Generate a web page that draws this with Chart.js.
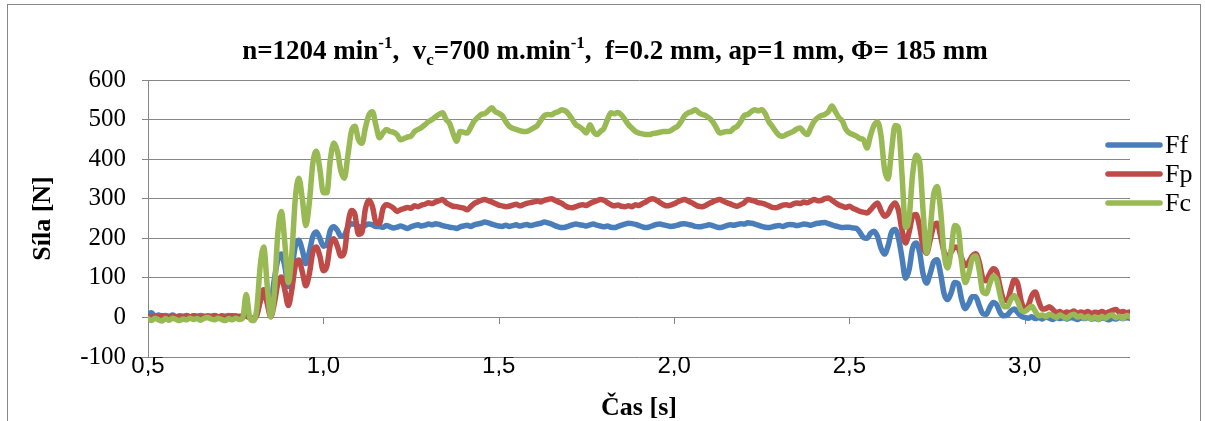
<!DOCTYPE html>
<html>
<head>
<meta charset="utf-8">
<script src="https://cdn.jsdelivr.net/npm/chart.js@4.4.0/dist/chart.umd.min.js"></script>
<style>
html, body { margin: 0; padding: 0; background: #fff; }
canvas { display: block; }
</style>
</head>
<body>
<canvas id="forceChart" width="1205" height="421"></canvas>
<script>
// sampling grid of the measurement (s)
const tStart = 0.5;
const tStep = 0.01;

const seriesNames = ['Ff', 'Fp', 'Fc'];
const seriesColors = ['#4A7EBB', '#BE4B48', '#98B954'];

const xTickValues = [0.5, 1.0, 1.5, 2.0, 2.5, 3.0];
const xTickLabels = ['0,5', '1,0', '1,5', '2,0', '2,5', '3,0'];

// Ff [N], one value per 0.01 s from 0.50 s
const ff = [
  8, 12, 3, 6, 2, 5, 3, 6, 2, 4,
  3, 5, 2, 4, 3, 5, 2, 4, 3, 5,
  2, 4, 3, 5, 3, 4, 2, 4, 3, 0,
  -2, 8, 45, 70, 55, 40, 95, 145, 160, 130,
  78, 120, 180, 195, 170, 136, 165, 205, 216, 200,
  180, 185, 220, 229, 220, 205, 208, 228, 237, 235,
  230, 228, 233, 236, 234, 230, 230, 228, 232, 229,
  226, 228, 231, 228, 225, 229, 232, 234, 231, 233,
  236, 234, 237, 235, 232, 230, 228, 227, 225, 229,
  231, 233, 230, 234, 236, 238, 241, 239, 236, 233,
  231, 230, 233, 230, 232, 234, 231, 233, 235, 232,
  234, 236, 238, 241, 239, 236, 232, 229, 227, 228,
  231, 234, 236, 234, 233, 231, 234, 236, 233, 231,
  229, 231, 228, 227, 230, 233, 236, 238, 237, 235,
  232, 229, 227, 229, 232, 235, 236, 234, 232, 230,
  231, 233, 236, 237, 235, 233, 230, 229, 230, 232,
  234, 232, 229, 227, 229, 232, 234, 233, 235, 237,
  236, 239, 238, 236, 233, 230, 228, 227, 229, 231,
  232, 230, 233, 235, 234, 232, 234, 236, 235, 233,
  236, 238, 239, 240, 237, 234, 231, 229, 227, 228,
  228, 226, 225, 215, 202, 200, 212, 218, 205, 175,
  160, 180, 215, 222, 200, 150, 99, 120, 175, 188,
  165, 110, 87, 110, 140, 146, 110, 60, 45, 62,
  88, 85, 45, 22, 35, 52, 52, 30, 10, 8,
  25, 38, 32, 12, 4, 6, 16, 21, 12, 3,
  0, -2, 2, -3, 0, -4, 1, -2, -5, 0,
  -3, -1, -4, 0, -2, -5, -1, -3, 0, -4,
  -2, -5, -1, -3, -6, -2, -4, 0, -3, -1,
  -2
];

// Fp [N]
const fp = [
  2, 0, 3, 1, 4, 2, 0, 3, 1, 2,
  0, 3, 1, 4, 2, 0, 3, 1, 2, 4,
  1, 3, 0, 2, 4, 1, 3, 2, 5, 0,
  -3, 5, 40, 69, 35, 2, 35, 85, 102, 70,
  30, 70, 130, 145, 115, 80, 110, 165, 178, 155,
  118, 130, 185, 199, 180, 155, 165, 235, 270, 260,
  210, 215, 275, 296, 280, 240, 238, 275, 285, 282,
  276, 268, 272, 275, 278, 276, 282, 280, 284, 286,
  290, 288, 292, 295, 298, 290, 285, 281, 280, 278,
  276, 272, 280, 288, 292, 296, 298, 295, 292, 288,
  284, 282, 280, 281, 284, 286, 282, 285, 288, 290,
  292, 294, 292, 296, 298, 300, 296, 292, 288, 282,
  278, 277, 280, 283, 285, 283, 288, 292, 295, 298,
  296, 290, 285, 282, 284, 281, 280, 282, 280, 285,
  283, 288, 292, 298, 300, 296, 290, 285, 282, 284,
  287, 292, 296, 298, 294, 290, 285, 281, 280, 283,
  288, 292, 296, 298, 294, 290, 287, 283, 281, 285,
  290, 298, 296, 294, 290, 289, 286, 282, 278, 277,
  280, 284, 285, 283, 287, 289, 288, 292, 290, 294,
  298, 295, 296, 300, 302, 296, 290, 284, 281, 278,
  281, 276, 272, 268, 266, 264, 272, 282, 289, 270,
  256, 262, 280, 289, 270, 220, 188, 215, 255, 260,
  230, 180, 162, 195, 230, 238, 205, 165, 154, 165,
  178, 175, 150, 131, 140, 155, 161, 140, 100, 93,
  110, 123, 115, 75, 45, 42, 70, 95, 85, 40,
  21, 30, 55, 64, 40, 21, 22, 27, 20, 12,
  15, 10, 14, 12, 16, 10, 14, 12, 15, 10,
  13, 12, 15, 11, 14, 18, 20, 13, 15, 12,
  14
];

// Fc [N]
const fc = [
  -3, -8, -2, -6, -9, -3, -7, -2, -5, -8,
  -4, -6, -2, -5, -3, -7, -2, 0, -4, -6,
  -2, -5, -8, -3, -6, -2, -5, -2, 58, 0,
  -8, 20, 130, 178, 80, 2, 60, 210, 268, 190,
  88, 160, 300, 352, 300, 232, 290, 390, 420, 375,
  315, 315, 400, 441, 420, 370, 352, 410, 470, 483,
  450, 440, 480, 512, 520, 485, 454, 466, 475, 470,
  468, 462, 449, 452, 456, 458, 470, 475, 480, 487,
  495, 500, 507, 513, 517, 500, 490, 465, 445, 470,
  468, 466, 480, 496, 505, 513, 515, 522, 530, 520,
  516, 510, 495, 483, 478, 475, 472, 470, 470, 474,
  479, 485, 498, 510, 513, 512, 517, 520, 525, 522,
  513, 500, 487, 482, 475, 466, 487, 470, 462, 470,
  478, 500, 517, 515, 518, 512, 500, 487, 478, 470,
  466, 464, 462, 462, 465, 466, 468, 470, 470, 472,
  478, 483, 495, 510, 517, 520, 525, 518, 513, 510,
  504, 495, 480, 466, 468, 470, 470, 478, 483, 495,
  510, 513, 520, 525, 522, 525, 515, 495, 483, 470,
  460, 458, 462, 466, 470, 476, 479, 468, 462, 480,
  496, 505, 510, 513, 520, 534, 520, 505, 496, 475,
  466, 462, 458, 452, 449, 428, 460, 485, 494, 460,
  375, 350, 420, 485, 480, 360, 228, 250, 360, 410,
  395, 270, 163, 220, 310, 331, 270, 160, 125, 170,
  232, 225, 140, 88, 110, 148, 155, 120, 65, 60,
  85, 105, 95, 55, 28, 27, 45, 55, 40, 18,
  15, 22, 28, 15, 4, 6, 2, 8, 4, 0,
  6, 2, -2, 5, 8, 1, 4, -2, 3, -4,
  2, -5, 3, -2, 4, 6, -1, 3, -3, 5,
  2
];

const seriesValues = [ff, fp, fc];

function toPoints(vals) {
  return vals.map((v, i) => ({ x: +(tStart + i * tStep).toFixed(2), y: v }));
}

const gridColor = '#878787';
const serif = "'Liberation Serif', 'Times New Roman', serif";
const sans = "'Liberation Sans', Arial, sans-serif";

// title with super/subscripts: [text, shift] shift 1 = sup, -1 = sub
const titleParts = [
  ['n=1204 min', 0], ['-1', 1], [',  v', 0], ['c', -1],
  ['=700 m.min', 0], ['-1', 1], [',  f=0.2 mm, ap=1 mm, \u03A6= 185 mm', 0]
];

const decor = {
  id: 'decor',
  beforeDraw(chart) {
    const ctx = chart.ctx;
    ctx.save();
    ctx.fillStyle = '#fff';
    ctx.fillRect(0, 0, chart.width, chart.height);
    ctx.strokeStyle = gridColor;
    ctx.lineWidth = 1;
    ctx.strokeRect(7.5, 4.5, 1193, 440);
    ctx.restore();
  },
  beforeDatasetsDraw(chart) {
    // small tick marks under the zero line
    const ctx = chart.ctx;
    const xs = chart.scales.x, ys = chart.scales.y;
    const y0 = Math.round(ys.getPixelForValue(0));
    ctx.save();
    ctx.strokeStyle = gridColor;
    ctx.lineWidth = 1;
    xTickValues.forEach(v => {
      const px = Math.round(xs.getPixelForValue(v)) + 0.5;
      ctx.beginPath();
      ctx.moveTo(px, y0);
      ctx.lineTo(px, y0 + 7);
      ctx.stroke();
    });
    ctx.restore();
  },
  afterDraw(chart) {
    const ctx = chart.ctx;
    ctx.save();
    // title
    const bigFont = 'bold 27px ' + serif;
    const smallFont = 'bold 17px ' + serif;
    let total = 0;
    titleParts.forEach(p => {
      ctx.font = p[1] === 0 ? bigFont : smallFont;
      total += ctx.measureText(p[0]).width;
    });
    let x = 615 - total / 2;
    const base = 59;
    ctx.fillStyle = '#000';
    ctx.textBaseline = 'alphabetic';
    ctx.textAlign = 'left';
    titleParts.forEach(p => {
      ctx.font = p[1] === 0 ? bigFont : smallFont;
      const dy = p[1] === 1 ? -11 : (p[1] === -1 ? 6 : 0);
      ctx.fillText(p[0], x, base + dy);
      x += ctx.measureText(p[0]).width;
    });
    // legend
    const rows = [145, 174, 203];
    chart.data.datasets.forEach((ds, i) => {
      ctx.strokeStyle = ds.borderColor;
      ctx.lineWidth = 5.5;
      ctx.lineCap = 'round';
      ctx.beginPath();
      ctx.moveTo(1108, rows[i]);
      ctx.lineTo(1160, rows[i]);
      ctx.stroke();
      ctx.font = '26px ' + serif;
      ctx.fillStyle = '#000';
      ctx.textBaseline = 'middle';
      ctx.fillText(ds.label, 1165, rows[i] + 1);
    });
    ctx.restore();
  }
};

const chart = new Chart(document.getElementById('forceChart'), {
  type: 'line',
  data: {
    datasets: seriesNames.map((name, i) => ({
      label: name,
      data: toPoints(seriesValues[i]),
      borderColor: seriesColors[i],
      backgroundColor: seriesColors[i],
      borderWidth: 5.5,
      pointRadius: 0,
      fill: false,
      cubicInterpolationMode: 'monotone',
      borderJoinStyle: 'round',
      borderCapStyle: 'round',
      order: 3 - i
    }))
  },
  options: {
    responsive: false,
    animation: false,
    devicePixelRatio: 1,
    layout: { padding: { left: 0, top: 80, right: 75, bottom: 0 } },
    plugins: { legend: { display: false }, tooltip: { enabled: false } },
    scales: {
      x: {
        type: 'linear',
        min: 0.5,
        max: 3.3,
        afterBuildTicks: s => { s.ticks = xTickValues.map(v => ({ value: v })); },
        afterFit: s => { s.height = 64; },
        grid: { display: false },
        border: { display: false },
        ticks: {
          autoSkip: false,
          maxRotation: 0,
          padding: -13,
          color: '#000',
          font: { family: sans, size: 24 },
          callback: (v) => xTickLabels[xTickValues.indexOf(v)]
        },
        title: {
          display: true,
          text: 'Čas [s]',
          color: '#000',
          font: { family: serif, size: 26, weight: 'bold', lineHeight: 1 },
          padding: { top: 0, bottom: 0 }
        }
      },
      y: {
        min: -100,
        max: 600,
        afterFit: s => { s.width = 148; },
        ticks: {
          stepSize: 100,
          padding: 16,
          color: '#000',
          font: { family: serif, size: 25 }
        },
        grid: { color: gridColor, lineWidth: 1, tickLength: 6, drawTicks: true },
        border: { display: true, color: gridColor },
        title: {
          display: true,
          text: 'Síla [N]',
          color: '#000',
          font: { family: serif, size: 26, weight: 'bold', lineHeight: 1 },
          padding: { top: 30, bottom: 0 }
        }
      }
    }
  },
  plugins: [decor]
});
</script>
</body>
</html>
